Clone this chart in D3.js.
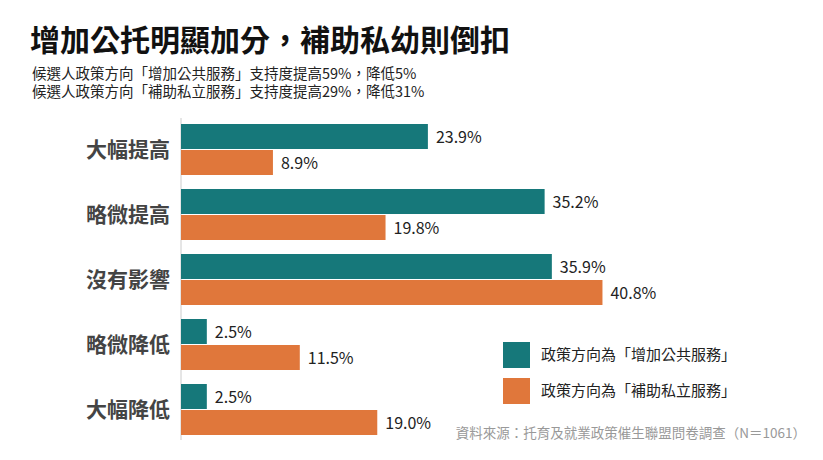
<!DOCTYPE html>
<html><head><meta charset="utf-8">
<script src="https://cdn.jsdelivr.net/npm/d3@7"></script>
<style>body{margin:0;background:#fff;font-family:"Noto Sans CJK TC","Noto Sans",sans-serif;}</style>
</head><body>
<div id="chart"></div>
<script>
var categories = ["大幅提高", "略微提高", "沒有影響", "略微降低", "大幅降低"];
var publicValues = [23.9, 35.2, 35.9, 2.5, 2.5];
var privateValues = [8.9, 19.8, 40.8, 11.5, 19.0];
var seriesNames = ["政策方向為「增加公共服務」", "政策方向為「補助私立服務」"];
var colors = ["#16787a", "#e0773b"];

var width = 823, height = 460;
var svg = d3.select("#chart").append("svg").attr("width", width).attr("height", height);

svg.append("text").attr("x", 30).attr("y", 51)
  .style("font-size", "30px").style("font-weight", "bold").style("fill", "#111")
  .text("增加公托明顯加分，補助私幼則倒扣");
svg.append("text").attr("x", 32).attr("y", 79).style("font-size", "14.5px").style("fill", "#222")
  .text("候選人政策方向「增加公共服務」支持度提高59%，降低5%");
svg.append("text").attr("x", 32).attr("y", 97).style("font-size", "14.5px").style("fill", "#222")
  .text("候選人政策方向「補助私立服務」支持度提高29%，降低31%");

var x = d3.scaleLinear().domain([0, 10]).range([181, 284.3]);
var y = d3.scaleBand().domain(categories).range([117.5, 442.5]).paddingInner(0.2).paddingOuter(0.1);
var bh = y.bandwidth() / 2;

svg.append("line").attr("x1", 181).attr("x2", 181).attr("y1", 118).attr("y2", 440)
  .style("stroke", "#ccc");

var g = svg.selectAll(".cat").data(categories).enter().append("g")
  .attr("transform", function(d){ return "translate(0," + y(d) + ")"; });

g.append("text").attr("x", 170).attr("y", bh)
  .attr("dy", "0.35em").style("text-anchor", "end")
  .style("font-size", "21px").style("font-weight", "bold").style("fill", "#444")
  .text(function(d){ return d; });

[publicValues, privateValues].forEach(function(vals, s){
  g.append("rect").attr("x", x(0)).attr("y", s * bh)
    .attr("width", function(d, i){ return x(vals[i]) - x(0); })
    .attr("height", bh - 1).style("fill", colors[s]);
  g.append("text").attr("x", function(d, i){ return x(vals[i]) + 8; })
    .attr("y", s * bh + bh / 2).attr("dy", "0.35em")
    .style("font-size", "16px").style("fill", "#222")
    .text(function(d, i){ return vals[i].toFixed(1) + "%"; });
});

var leg = svg.selectAll(".leg").data(seriesNames).enter().append("g")
  .attr("transform", function(d, i){ return "translate(503," + (342 + i * 36) + ")"; });
leg.append("rect").attr("width", 27).attr("height", 26).style("fill", function(d, i){ return colors[i]; });
leg.append("text").attr("x", 38).attr("y", 13).attr("dy", "0.35em")
  .style("font-size", "15px").style("fill", "#222").text(function(d){ return d; });

svg.append("text").attr("x", 806).attr("y", 438).style("text-anchor", "end")
  .style("font-size", "13.5px").style("fill", "#999")
  .text("資料來源：托育及就業政策催生聯盟問卷調查（N＝1061）");
</script>
</body></html>
